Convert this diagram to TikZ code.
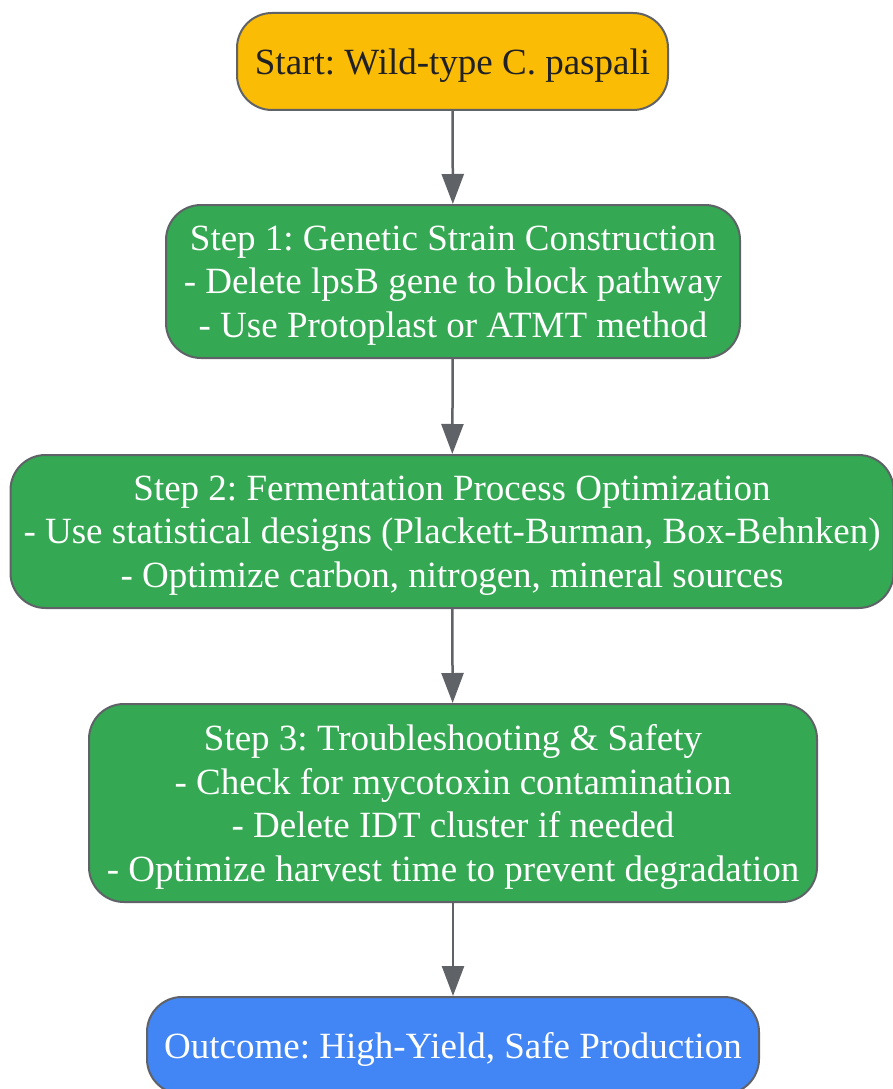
\documentclass[tikz,border=0pt]{standalone}
\usepackage{fontspec}
\setmainfont{Liberation Serif}
\frenchspacing
\usetikzlibrary{arrows.meta,positioning}
\definecolor{startyellow}{HTML}{FBBC05}
\definecolor{stepgreen}{HTML}{34A853}
\definecolor{outblue}{HTML}{4285F4}
\definecolor{edgegray}{HTML}{5F6368}
\definecolor{darktext}{HTML}{202124}
\begin{document}
\begin{tikzpicture}[x=1pt,y=-1pt,
  box/.style={rectangle,draw=edgegray,line width=2pt,rounded corners=35pt,align=center,inner sep=0pt,text depth=-4pt,font=\fontsize{37}{43.5}\selectfont},
  link/.style={draw=edgegray,line width=2.5pt,-{Triangle[length=30pt,width=22pt]}}]
\useasboundingbox (0,0) rectangle (892,1089);
\node[box,fill=startyellow,text=darktext,minimum width=431pt,minimum height=97pt] (start) at (452.5,61.5) {Start: Wild-type C. paspali};
\node[box,fill=stepgreen,text=white,minimum width=574pt,minimum height=153pt] (step1) at (453,281.5) {Step 1: Genetic Strain Construction\\- Delete lpsB gene to block pathway\\- Use Protoplast or ATMT method};
\node[box,fill=stepgreen,text=white,minimum width=883pt,minimum height=153pt] (step2) at (452,531.5) {Step 2: Fermentation Process Optimization\\- Use statistical designs (Plackett-Burman, Box-Behnken)\\- Optimize carbon, nitrogen, mineral sources};
\node[box,fill=stepgreen,text=white,minimum width=728pt,minimum height=198pt] (step3) at (453,803) {Step 3: Troubleshooting \& Safety\\- Check for mycotoxin contamination\\- Delete IDT cluster if needed\\- Optimize harvest time to prevent degradation};
\node[box,fill=outblue,text=white,minimum width=612pt,minimum height=97pt] (outcome) at (453,1045.5) {Outcome: High-Yield, Safe Production};
\draw[link] (start) -- (step1);
\draw[link] (step1) -- (step2);
\draw[link] (step2) -- (step3);
\draw[link] (step3) -- (outcome);
\end{tikzpicture}
\end{document}
